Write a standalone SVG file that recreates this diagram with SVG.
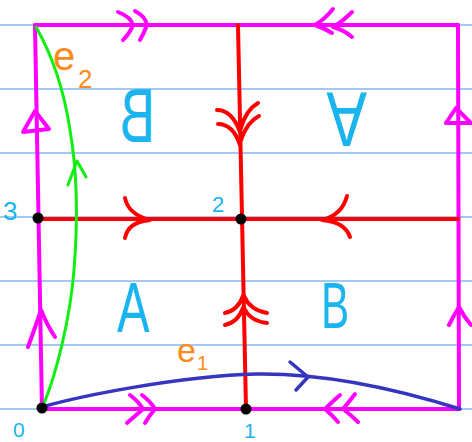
<svg xmlns="http://www.w3.org/2000/svg" width="472" height="442" viewBox="0 0 472 442">
<style>
.rule{stroke:#86b6ee;stroke-width:1.6;fill:none}
.mag{stroke:#ff00ff;stroke-width:4;fill:none;stroke-linecap:round;stroke-linejoin:round}
.red{stroke:#ff0000;stroke-width:4;fill:none;stroke-linecap:round;stroke-linejoin:round}
.grn{stroke:#11ee11;stroke-width:3;fill:none;stroke-linecap:round;stroke-linejoin:round}
.blu{stroke:#3535c0;stroke-width:3.5;fill:none;stroke-linecap:round;stroke-linejoin:round}
.lbl{fill:#1ab4ee;font-family:"Liberation Sans",Arial,sans-serif}
.org{fill:#ff8a1a;font-family:"Liberation Sans",Arial,sans-serif}
.dot{fill:#000}
</style>
<rect width="472" height="442" fill="#fff"/>
<g id="ruling">
<line class="rule" x1="0" y1="25" x2="472" y2="25"/>
<line class="rule" x1="0" y1="89" x2="472" y2="89"/>
<line class="rule" x1="0" y1="153" x2="472" y2="153"/>
<line class="rule" x1="0" y1="217" x2="472" y2="217"/>
<line class="rule" x1="0" y1="281" x2="472" y2="281"/>
<line class="rule" x1="0" y1="345" x2="472" y2="345"/>
<line class="rule" x1="0" y1="409" x2="472" y2="409"/>
</g>
<g id="connectors">
<path class="mag" d="M35,25 L458,25"/>
<path class="mag" d="M35,25 L42,409"/>
<path class="mag" d="M458,25 L459,409"/>
<path class="mag" d="M42,409 L459,409"/>
<path class="mag" d="M118,12 Q131,17 133,25 Q130,33 123,40 M135,11 Q146,17 147,25 Q144,33 140,40"/>
<path class="mag" d="M333,9 Q324,20 315,25 Q324,28 332,33 M352,12 Q342,22 333,27 Q344,30 352,37"/>
<path class="mag" d="M130,395 Q139,402 143,409 Q135,416 127,423 M142,395 Q151,402 155,409 Q149,416 145,423"/>
<path class="mag" d="M340,395 Q332,402 325,409 Q332,415 338,422 M355,394 Q349,402 343,409 Q351,415 358,422"/>
<path class="mag" d="M35,111 L23,132 L49,129 Z"/>
<path class="mag" d="M456,108 L446,123 L471,123 Z"/>
<path class="mag" d="M28,347 Q35,328 41,310 Q47,325 55,337"/>
<path class="mag" d="M449,325 Q454,315 459,307 Q464,317 471,325"/>
<path class="red" d="M238,25 L246,409"/>
<path class="red" d="M38,219 L458,219"/>
<path class="red" d="M217,110 Q232,110 240,132 M258,103 Q246,110 241,128 M218,124 Q233,124 240,145 M259,116 Q247,122 241,140"/>
<path class="red" d="M225,313 Q238,310 243,296 M267,313 Q250,310 244,296 M225,325 Q238,322 243,308 M267,323 Q250,321 244,308"/>
<path class="red" d="M125,198 Q128,214 150,220 Q128,222 125,238"/>
<path class="red" d="M347,196 Q342,215 322,220 Q345,222 350,237"/>
<path class="grn" d="M43,406 C56,375 70,320 74,270 C78,220 77,170 70,130 C64,90 52,55 36,27"/>
<path class="grn" d="M68,185 L77,161 L86,177"/>
<path class="blu" d="M42,407 C80,396 180,376 256,374 C330,373 400,390 460,409"/>
<path class="blu" d="M290,362 L308,377 L296,390"/>
</g>
<g id="v0"><circle class="dot" cx="42" cy="408" r="5.5"/><text class="lbl" x="13" y="437" font-size="21">0</text></g>
<g id="v1"><circle class="dot" cx="246" cy="409" r="5.5"/><text class="lbl" x="244" y="438" font-size="21">1</text></g>
<g id="v2"><circle class="dot" cx="241" cy="219" r="5.5"/><text class="lbl" x="212" y="212" font-size="22">2</text></g>
<g id="v3"><circle class="dot" cx="38" cy="218" r="5.5"/><text class="lbl" x="3" y="220" font-size="26">3</text></g>
<g id="faceA"><text class="lbl" font-size="70" transform="translate(117,332) scale(0.7,1)">A</text></g>
<g id="faceB"><text class="lbl" font-size="64" transform="translate(321,328) scale(0.66,1)">B</text></g>
<g id="faceBmirror"><text class="lbl" font-size="76" transform="translate(155,142) scale(-0.7,1)">B</text></g>
<g id="faceAflip"><text class="lbl" font-size="78" transform="translate(367,92) scale(-0.78,-1)">A</text></g>
<g id="label-e1"><text class="org" x="177" y="362" font-size="34">e</text><text class="org" x="197" y="370" font-size="20">1</text></g>
<g id="label-e2"><text class="org" x="53" y="70" font-size="40">e</text><text class="org" x="78" y="88" font-size="26">2</text></g>
</svg>
